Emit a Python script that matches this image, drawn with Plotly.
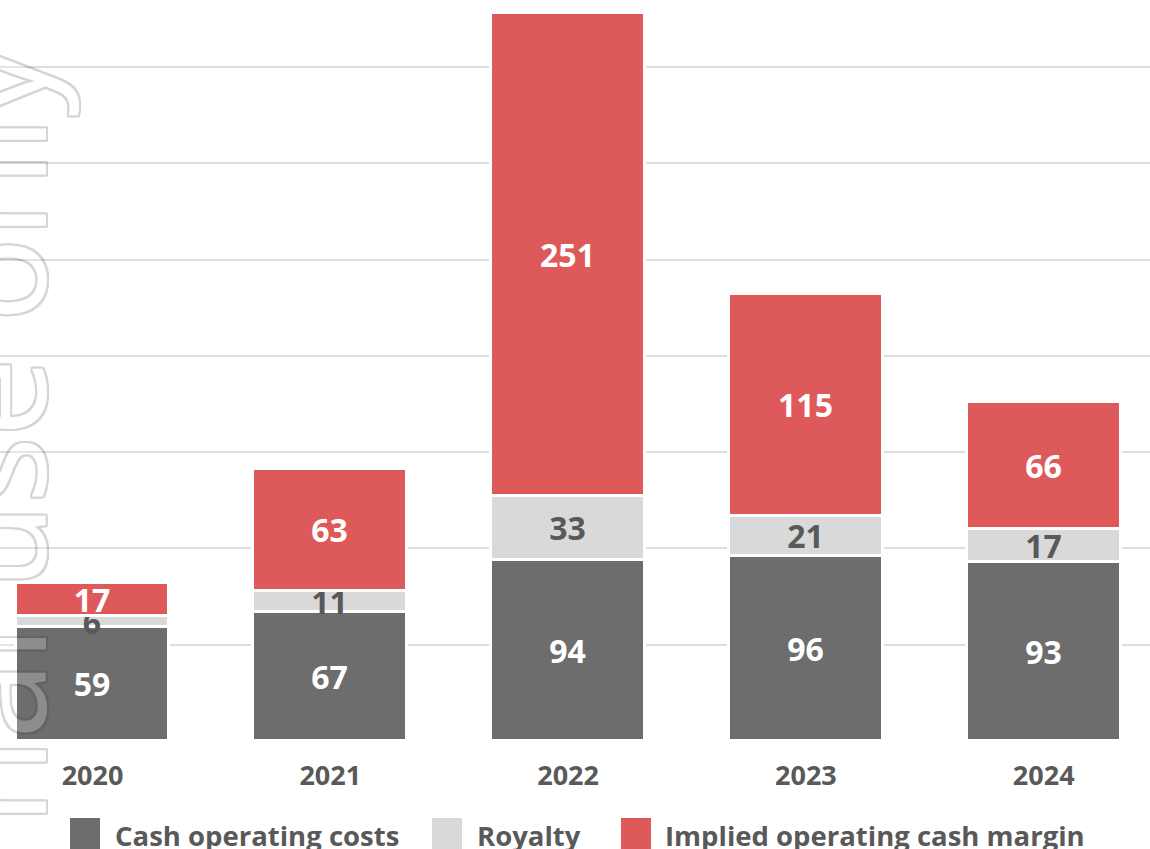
import plotly.graph_objects as go

# ---- data ----
years = ["2020", "2021", "2022", "2023", "2024"]
cash_costs = [59, 67, 94, 96, 93]
royalty = [6, 11, 33, 21, 17]
margin = [17, 63, 251, 115, 66]
series_names = ["Cash operating costs", "Royalty", "Implied operating cash margin"]
y_ticks = [0, 50, 100, 150, 200, 250, 300, 350]

# ---- style ----
C_COST = "#6d6d6d"
C_ROY = "#d9d9d9"
C_MARGIN = "#de5a5a"
TXT = "#595959"
FONT = "Open Sans"

W, H = 1150, 849
PLOT_H = 741  # pixel height of plot area (bottom margin = H - PLOT_H)

fig = go.Figure()
series = [(cash_costs, C_COST, "white"), (royalty, C_ROY, TXT), (margin, C_MARGIN, "white")]
for name, (vals, col, tcol) in zip(series_names, series):
    fig.add_trace(go.Bar(
        x=years, y=vals, name=name,
        marker=dict(color=col, line=dict(color="white", width=3)),
        width=0.647,
        text=[str(v) for v in vals],
        textposition="inside",
        insidetextanchor="middle",
        textangle=0,
        constraintext="none",
        insidetextfont=dict(family=FONT, size=32, color=tcol, weight="bold"),
        showlegend=False,
        hoverinfo="skip",
    ))

# x range so that categories sit where the reference places them
c0, step = 92.5, 237.8
r0 = -c0 / step
r1 = r0 + W / step

fig.update_layout(
    width=W, height=H,
    barmode="stack",
    bargap=0,
    plot_bgcolor="white", paper_bgcolor="white",
    margin=dict(l=0, r=0, t=0, b=H - PLOT_H),
    xaxis=dict(
        type="category", range=[r0, r1], showgrid=False, showline=False, zeroline=False,
        ticks="", tickfont=dict(family=FONT, size=27, color=TXT, weight="bold"),
        ticklabelstandoff=16,
    ),
    yaxis=dict(
        range=[0, 384.8], tickvals=y_ticks, showticklabels=False,
        showgrid=True, gridcolor="#dedede", gridwidth=2, zeroline=False,
        showline=False,
    ),
)

# ---- manual legend (large square swatches as in the reference) ----
def py(p):
    return (PLOT_H - p) / PLOT_H

legend_sq_x = [70, 432, 621]
legend_txt_x = [113, 475, 663]
for name, (vals, col, _), sx, tx in zip(series_names, series, legend_sq_x, legend_txt_x):
    fig.add_shape(type="rect", xref="paper", yref="paper",
                  x0=sx / W, x1=(sx + 30) / W, y0=py(852), y1=py(818),
                  fillcolor=col, line=dict(width=0), layer="above")
    fig.add_annotation(xref="paper", yref="paper", x=tx / W, y=py(835),
                       xanchor="left", yanchor="middle", showarrow=False,
                       text=name, font=dict(family=FONT, size=27.5, color=TXT, weight="bold"))

# ---- watermark ----
sh = "#444444"
shadow = ", ".join(f"{dx}px {dy}px 0 {sh}" for dx, dy in
                   [(-2, -2), (2, -2), (-2, 2), (2, 2), (0, 2), (0, -2), (2, 0), (-2, 0)])
fig.add_annotation(xref="paper", yref="paper", x=-9.5 / W, y=py(44),
                   xanchor="center", yanchor="top", showarrow=False,
                   text="Internal use only", textangle=-90, opacity=0.22,
                   font=dict(family=FONT, size=140, color="white", shadow=shadow))

fig.write_html("out.html", config={"displayModeBar": False},
               post_script="document.body.style.margin='0px';")
